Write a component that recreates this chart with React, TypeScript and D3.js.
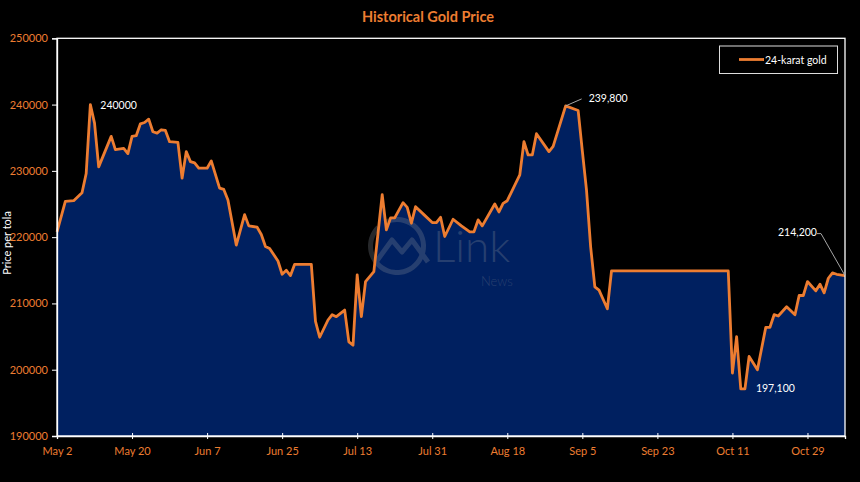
import { useEffect, useRef } from "react";
import * as d3 from "d3";

// 24-karat gold price per tola
const dates = [
  "2023-05-02", "2023-05-04", "2023-05-06", "2023-05-08", "2023-05-09", "2023-05-10",
  "2023-05-11", "2023-05-12", "2023-05-15", "2023-05-16", "2023-05-18", "2023-05-19",
  "2023-05-20", "2023-05-21", "2023-05-22", "2023-05-23", "2023-05-24", "2023-05-25",
  "2023-05-26", "2023-05-27", "2023-05-28", "2023-05-29", "2023-05-31", "2023-06-01",
  "2023-06-02", "2023-06-03", "2023-06-04", "2023-06-05", "2023-06-07", "2023-06-08",
  "2023-06-10", "2023-06-11", "2023-06-12", "2023-06-14", "2023-06-16", "2023-06-17",
  "2023-06-19", "2023-06-20", "2023-06-21", "2023-06-22", "2023-06-24", "2023-06-25",
  "2023-06-26", "2023-06-27", "2023-06-28", "2023-07-02", "2023-07-03", "2023-07-04",
  "2023-07-06", "2023-07-07", "2023-07-08", "2023-07-10", "2023-07-11", "2023-07-12",
  "2023-07-13", "2023-07-14", "2023-07-15", "2023-07-17", "2023-07-19", "2023-07-20",
  "2023-07-21", "2023-07-22", "2023-07-24", "2023-07-25", "2023-07-26", "2023-07-27",
  "2023-07-29", "2023-07-31", "2023-08-01", "2023-08-02", "2023-08-03", "2023-08-05",
  "2023-08-07", "2023-08-09", "2023-08-10", "2023-08-11", "2023-08-12", "2023-08-15",
  "2023-08-16", "2023-08-17", "2023-08-18", "2023-08-21", "2023-08-22", "2023-08-23",
  "2023-08-24", "2023-08-25", "2023-08-28", "2023-08-29", "2023-09-01", "2023-09-04",
  "2023-09-05", "2023-09-06", "2023-09-07", "2023-09-08", "2023-09-09", "2023-09-11",
  "2023-09-12", "2023-10-10", "2023-10-11", "2023-10-12", "2023-10-13", "2023-10-14",
  "2023-10-15", "2023-10-17", "2023-10-19", "2023-10-20", "2023-10-21", "2023-10-22",
  "2023-10-24", "2023-10-26", "2023-10-27", "2023-10-28", "2023-10-29", "2023-10-31",
  "2023-11-01", "2023-11-02", "2023-11-03", "2023-11-04", "2023-11-05", "2023-11-07",
];

const prices = [
  220800, 225400, 225500, 226700, 229600, 240000,
  237200, 230600, 235200, 233200, 233400, 232600,
  235200, 235300, 237100, 237300, 237800, 235900,
  235700, 236200, 236100, 234400, 234300, 228900,
  232900, 231400, 231200, 230400, 230400, 231500,
  227400, 227200, 225600, 218800, 223400, 221700,
  221500, 220400, 218600, 218300, 216400, 214400,
  215000, 214200, 215900, 215900, 207300, 204900,
  207500, 208300, 208000, 209000, 204200, 203700,
  214300, 208000, 213300, 214800, 226400, 221100,
  222900, 222900, 225200, 224500, 222100, 224600,
  223400, 222200, 222200, 223000, 220100, 222700,
  221700, 220800, 220800, 222600, 221700, 225000,
  223800, 225100, 225500, 229400, 234400, 232400,
  232400, 235600, 232900, 233700, 239800, 239100,
  233000, 227100, 218500, 212500, 212000, 209200,
  214900, 214900, 199500, 205000, 197100, 197100,
  202000, 200000, 206400, 206400, 208300, 208100,
  209500, 208300, 211200, 211200, 213300, 211900,
  212900, 211600, 213800, 214600, 214400, 214200,
];

const xTickDates = [
  "2023-05-02", "2023-05-20", "2023-06-07", "2023-06-25", "2023-07-13", "2023-07-31",
  "2023-08-18", "2023-09-05", "2023-09-23", "2023-10-11", "2023-10-29",
];
const xTickLabels = [
  "May 2", "May 20", "Jun 7", "Jun 25", "Jul 13", "Jul 31",
  "Aug 18", "Sep 5", "Sep 23", "Oct 11", "Oct 29",
];
const yTicks = [190000, 200000, 210000, 220000, 230000, 240000, 250000];

// data labels
const calloutDates = ["2023-05-10", "2023-09-01", "2023-10-14", "2023-11-07"];
const calloutValues = [240000, 239800, 197100, 214200];
const calloutTexts = ["240000", "239,800", "197,100", "214,200"];

const seriesName = "24-karat gold";
const title = "Historical Gold Price";
const yTitle = "Price per tola";

const W = 860;
const H = 482;
const ORANGE = "#ED7D31";
const NAVY = "#002060";
const FONT = "Lato, 'Open Sans', sans-serif";

const App = () => {
  const ref = useRef<SVGSVGElement>(null);

  useEffect(() => {
    document.body.style.margin = "0";
    document.body.style.background = "#000";
    if (!ref.current) return;
    const svg = d3.select(ref.current);
    svg.selectAll("*").remove();

    const parse = d3.timeParse("%Y-%m-%d");
    const data = dates.map((d, i) => ({ date: parse(d) as Date, value: prices[i] }));

    const left = 57;
    const right = 845;
    const top = 38.3;
    const bottom = 436;

    const x = d3
      .scaleTime()
      .domain([parse("2023-05-02") as Date, parse("2023-11-07") as Date])
      .range([left, right]);
    const y = d3.scaleLinear().domain([190000, 250000]).range([bottom, top]);

    svg.append("rect").attr("width", W).attr("height", H).attr("fill", "#000");

    // area + line
    const area = d3
      .area<{ date: Date; value: number }>()
      .x((d) => x(d.date))
      .y0(y(190000))
      .y1((d) => y(d.value));
    const line = d3
      .line<{ date: Date; value: number }>()
      .x((d) => x(d.date))
      .y((d) => y(d.value));

    svg.append("path").datum(data).attr("d", area).attr("fill", NAVY);

    // watermark
    const wm = svg.append("g").attr("opacity", 0.28);
    wm.append("path")
      .attr(
        "d",
        d3.arc<void, void>()
          .innerRadius(24)
          .outerRadius(29)
          .startAngle(-Math.PI * 0.15)
          .endAngle(Math.PI * 1.75)()
      )
      .attr("transform", "translate(397,246)")
      .attr("fill", "#8a8f99");
    wm.append("path")
      .attr("d", "M376,262 L392,240 L402,252 L412,240 L428,262")
      .attr("fill", "none")
      .attr("stroke", "#8a8f99")
      .attr("stroke-width", 5)
      .attr("stroke-linejoin", "round");
    wm.append("text")
      .attr("x", 433)
      .attr("y", 262)
      .attr("font-family", FONT)
      .attr("font-weight", 300)
      .attr("font-size", 44)
      .attr("fill", "#8a8f99")
      .text("Link");
    wm.append("text")
      .attr("x", 481)
      .attr("y", 286)
      .attr("font-family", FONT)
      .attr("font-weight", 300)
      .attr("font-size", 13)
      .attr("fill", "#8a8f99")
      .text("News");

    svg.append("path")
      .datum(data)
      .attr("d", line)
      .attr("fill", "none")
      .attr("stroke", ORANGE)
      .attr("stroke-width", 2.8)
      .attr("stroke-linejoin", "round");

    // plot border
    svg.append("rect")
      .attr("x", left)
      .attr("y", top)
      .attr("width", right - left)
      .attr("height", bottom - top)
      .attr("fill", "none")
      .attr("stroke", "#fff")
      .attr("stroke-width", 1.3);

    // y axis
    const yAxis = svg
      .append("g")
      .attr("transform", `translate(${left},0)`)
      .call(
        d3.axisLeft(y)
          .tickValues(yTicks)
          .tickSize(5)
          .tickPadding(4)
          .tickFormat((d) => String(d))
      );
    yAxis.select(".domain").attr("stroke", "#fff").attr("stroke-width", 1.3);
    yAxis.selectAll(".tick line").attr("stroke", "#fff");
    yAxis.selectAll(".tick text")
      .attr("fill", ORANGE)
      .attr("font-family", FONT)
      .attr("font-size", 11);

    // x axis
    const xAxis = svg
      .append("g")
      .attr("transform", `translate(0,${bottom})`)
      .call(
        d3.axisBottom(x)
          .tickValues(xTickDates.map((d) => parse(d) as Date))
          .tickSize(3)
          .tickPadding(8)
          .tickFormat((_d, i) => xTickLabels[i])
      );
    xAxis.select(".domain").attr("stroke", "#fff").attr("stroke-width", 1.3);
    xAxis.selectAll(".tick line").attr("stroke", "#fff").attr("y1", -3);
    xAxis.selectAll(".tick text")
      .attr("fill", ORANGE)
      .attr("font-family", FONT)
      .attr("font-size", 11);

    // title
    svg.append("text")
      .attr("x", 428)
      .attr("y", 21.5)
      .attr("text-anchor", "middle")
      .attr("font-family", FONT)
      .attr("font-weight", 700)
      .attr("font-size", 14.5)
      .attr("fill", ORANGE)
      .text(title);

    // y title
    svg.append("text")
      .attr("transform", "translate(10.5,243) rotate(-90)")
      .attr("text-anchor", "middle")
      .attr("font-family", FONT)
      .attr("font-size", 11)
      .attr("fill", "#fff")
      .text(yTitle);

    // legend
    const lg = svg.append("g");
    lg.append("rect")
      .attr("x", 719.5)
      .attr("y", 46)
      .attr("width", 118)
      .attr("height", 27.5)
      .attr("fill", "#000")
      .attr("stroke", "#ddd")
      .attr("stroke-width", 1);
    lg.append("line")
      .attr("x1", 739)
      .attr("x2", 764)
      .attr("y1", 59.5)
      .attr("y2", 59.5)
      .attr("stroke", ORANGE)
      .attr("stroke-width", 2.8);
    lg.append("text")
      .attr("x", 765)
      .attr("y", 63.5)
      .attr("font-family", FONT)
      .attr("font-size", 10.5)
      .attr("fill", "#fff")
      .text(seriesName);

    // data labels
    const pts = calloutDates.map((d, i) => ({
      px: x(parse(d) as Date),
      py: y(calloutValues[i]),
      text: calloutTexts[i],
    }));
    const offsets = [
      { dx: 10, dy: 4, leader: null as null | [number, number][] },
      { dx: 23, dy: -3.5, leader: [[0, 0], [16, -7]] as [number, number][] },
      { dx: 11, dy: 3.5, leader: null },
      { dx: -67, dy: -40, leader: [[0, 0], [-24, -42], [-28, -42]] as [number, number][] },
    ];
    pts.forEach((p, i) => {
      const o = offsets[i];
      if (o.leader) {
        svg.append("path")
          .attr("d", d3.line()(o.leader.map(([a, b]) => [p.px + a, p.py + b])))
          .attr("fill", "none")
          .attr("stroke", "#a6a6a6")
          .attr("stroke-width", 1);
      }
      svg.append("text")
        .attr("x", p.px + o.dx)
        .attr("y", p.py + o.dy)
        .attr("font-family", FONT)
        .attr("font-size", 10.5)
        .attr("fill", "#fff")
        .text(p.text);
    });
  }, []);

  return <svg ref={ref} width={W} height={H} style={{ display: "block" }}></svg>;
};

export default App;
